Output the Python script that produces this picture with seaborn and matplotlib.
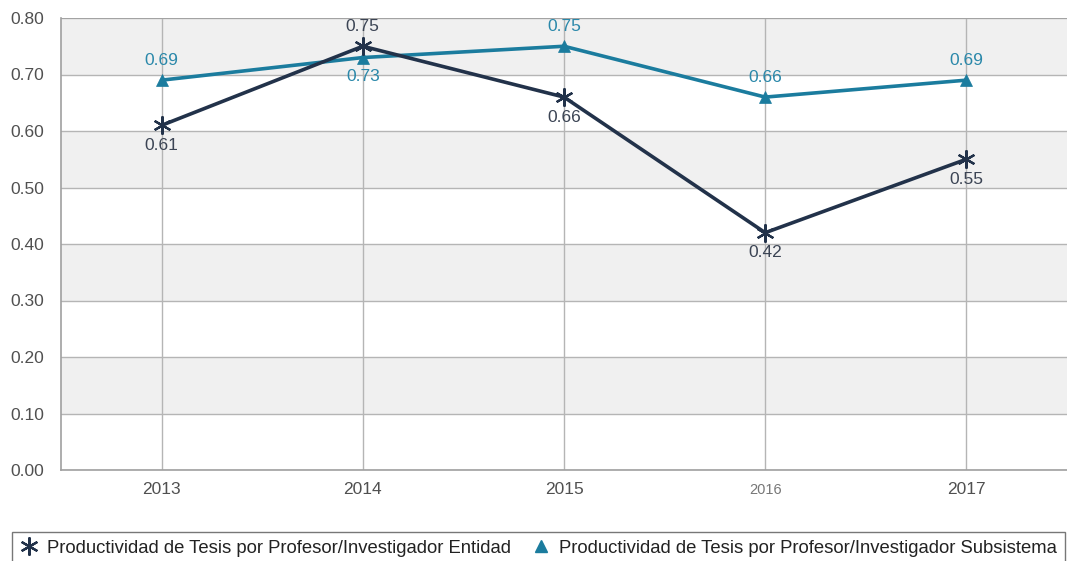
import matplotlib
matplotlib.use("Agg")
import matplotlib.pyplot as plt
import seaborn as sns
import pandas as pd
from matplotlib.lines import Line2D

years = [2013, 2014, 2015, 2016, 2017]
entidad = [0.61, 0.75, 0.66, 0.42, 0.55]
subsistema = [0.69, 0.73, 0.75, 0.66, 0.69]
series_names = [
    "Productividad de Tesis por Profesor/Investigador Entidad",
    "Productividad de Tesis por Profesor/Investigador Subsistema",
]
y_ticks = [0.0, 0.1, 0.2, 0.3, 0.4, 0.5, 0.6, 0.7, 0.8]

navy = "#22324a"
teal = "#1b7c9e"
navy_text = "#3b4454"
teal_text = "#2a88aa"
fs = 12.5
legend_fs = 13.3

sns.set_theme(style="white")
plt.rcParams["font.family"] = ["Liberation Sans", "DejaVu Sans"]

df_ent = pd.DataFrame({"year": years, "value": entidad})
df_sub = pd.DataFrame({"year": years, "value": subsistema})

fig = plt.figure(figsize=(10.67, 5.61), dpi=100)
ax = fig.add_axes([61 / 1067, 1 - 470 / 561, 1 - 61 / 1067, (470 - 18) / 561])

# alternating horizontal bands
for lo in [0.1, 0.3, 0.5, 0.7]:
    ax.axhspan(lo, lo + 0.1, color="#f0f0f0", zorder=0, lw=0)

sns.lineplot(data=df_sub, x="year", y="value", color=teal, marker="^",
             markersize=8, markeredgewidth=0.5, markeredgecolor=teal,
             linewidth=2.6, ax=ax, zorder=3)
sns.lineplot(data=df_ent, x="year", y="value", color=navy, marker=(6, 2, 0),
             markersize=13, markeredgewidth=1.6, markeredgecolor=navy,
             linewidth=2.6, ax=ax, zorder=4)

ax.set_xlim(2012.5, 2017.5)
ax.set_ylim(0, 0.8)
ax.set_yticks(y_ticks)
ax.set_yticklabels([f"{v:.2f}" for v in y_ticks])
ax.set_xticks(years)
ax.set_xticklabels([str(y) for y in years])
for lbl in ax.get_xticklabels():
    if lbl.get_text() == "2016":
        lbl.set_fontsize(10.5)
        lbl.set_color("#777777")
    else:
        lbl.set_fontsize(fs)
        lbl.set_color("#505050")
for lbl in ax.get_yticklabels():
    lbl.set_fontsize(fs)
    lbl.set_color("#505050")
ax.tick_params(axis="both", length=0)
ax.tick_params(axis="x", pad=9)
ax.tick_params(axis="y", pad=12)
ax.set_xlabel("")
ax.set_ylabel("")
ax.grid(True, color="#b5b5b5", linewidth=1.0, zorder=1)
ax.set_axisbelow(True)
for s in ["top", "right"]:
    ax.spines[s].set_visible(False)
for s in ["left", "bottom"]:
    ax.spines[s].set_color("#a0a0a0")
    ax.spines[s].set_linewidth(1.2)
ax.axhline(0.8, color="#a0a0a0", lw=1.2, zorder=1)

# value labels
ent_pos = ["below", "above", "below", "below", "below"]
sub_pos = ["above", "below", "above", "above", "above"]
for x, v, p in zip(years, entidad, ent_pos):
    off = 20 if p == "above" else -20
    ax.annotate(f"{v:.2f}", (x, v), xytext=(0, off), textcoords="offset pixels",
                ha="center", va="center", fontsize=fs, color=navy_text, zorder=5)
for x, v, p in zip(years, subsistema, sub_pos):
    off = 20 if p == "above" else -19
    ax.annotate(f"{v:.2f}", (x, v), xytext=(0, off), textcoords="offset pixels",
                ha="center", va="center", fontsize=fs, color=teal_text, zorder=5)

handles = [
    Line2D([], [], color=navy, marker=(6, 2, 0), linestyle="none", markersize=13, markeredgewidth=1.6),
    Line2D([], [], color=teal, marker="^", linestyle="none", markersize=8),
]
leg = fig.legend(
    handles, series_names, loc="upper left", ncol=2,
    bbox_to_anchor=(12 / 1067, 1 - 532 / 561),
    frameon=True, fancybox=False, edgecolor="#555555", fontsize=legend_fs,
    handlelength=1.0, handletextpad=0.5, columnspacing=1.1,
    borderaxespad=0, borderpad=0.42,
)
leg.get_frame().set_linewidth(1.0)
for t in leg.get_texts():
    t.set_color("#222222")

fig.savefig("out.png", dpi=100)
